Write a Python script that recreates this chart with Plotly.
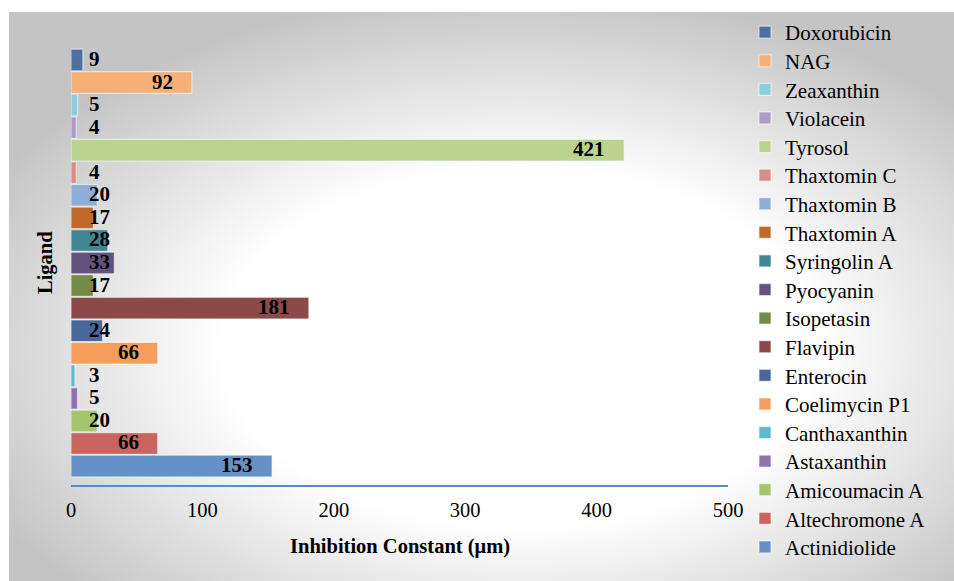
import base64
import plotly.graph_objects as go

# Inhibition constants per ligand, listed from the bottom bar to the top bar
ligands = [
    "Actinidiolide", "Altechromone A", "Amicoumacin A", "Astaxanthin",
    "Canthaxanthin", "Coelimycin P1", "Enterocin", "Flavipin", "Isopetasin",
    "Pyocyanin", "Syringolin A", "Thaxtomin A", "Thaxtomin B", "Thaxtomin C",
    "Tyrosol", "Violacein", "Zeaxanthin", "NAG", "Doxorubicin",
]
ki_values = [153, 66, 20, 5, 3, 66, 24, 181, 17, 33, 28, 17, 20, 4, 421, 4, 5, 92, 9]
x_ticks = [0, 100, 200, 300, 400, 500]

bar_colors = [
    "#6592C6", "#C9645F", "#A5C46C", "#8E73AE", "#5FB8D0", "#F59D5B",
    "#48689A", "#8B4A48", "#738A49", "#64527E", "#428693", "#BF6A2A",
    "#8EAED8", "#D98C8A", "#BCD390", "#AC9CC6", "#8ECCDA", "#F5B07A",
    "#4E70A0",
]

W, H = 954, 581
M_L, M_R, M_T, M_B = 71, 226, 41, 96
PLOT_W = W - M_L - M_R
PLOT_H = H - M_T - M_B
SERIF = "Liberation Serif, Times New Roman, serif"

# legend column: one entry per ligand, top entry first
LEG_LEFT = 745
LEG_TOP_CENTER = 32.5
LEG_STEP = 28.6

# soft grey radial backdrop behind the whole chart (white centre, grey rim)
BG_X0, BG_Y0 = 9, 12
BG_W, BG_H = W - BG_X0, H - BG_Y0
svg = f"""<svg xmlns='http://www.w3.org/2000/svg' width='{BG_W}' height='{BG_H}' viewBox='0 0 {BG_W} {BG_H}' preserveAspectRatio='none'>
<defs><radialGradient id='g' cx='0.54' cy='0.59' r='0.63'>
<stop offset='0' stop-color='#ffffff'/><stop offset='0.5' stop-color='#ffffff'/>
<stop offset='1' stop-color='#c4c4c4'/></radialGradient></defs>
<rect x='0' y='0' width='{BG_W}' height='{BG_H}' fill='url(#g)'/></svg>"""
bg_uri = "data:image/svg+xml;base64," + base64.b64encode(svg.encode()).decode()

fig = go.Figure()
legend_layouts = {}
top_down = list(reversed(list(zip(ligands, ki_values, bar_colors))))
for i, (name, val, col) in enumerate(top_down):
    leg_id = "legend" if i == 0 else f"legend{i + 1}"
    fig.add_trace(go.Bar(
        x=[val], y=[name], orientation="h", name=name, legend=leg_id,
        marker=dict(color=col, line=dict(color="rgba(255,255,255,0.55)", width=1.2)),
        hoverinfo="x+name",
    ))
    center_px = LEG_TOP_CENTER + i * LEG_STEP
    legend_layouts[leg_id] = dict(
        xref="paper", yref="paper",
        x=(LEG_LEFT - M_L) / PLOT_W, y=((H - M_B) - center_px) / PLOT_H,
        xanchor="left", yanchor="middle", bgcolor="rgba(0,0,0,0)",
        font=dict(family=SERIF, size=21, color="#000000"),
        itemwidth=30,
    )

# value labels: inside the bar end, or just right of the axis for short bars
annotations = []
for name, val in zip(ligands, ki_values):
    inside = val >= 50
    annotations.append(dict(
        x=val if inside else 0, y=name, xref="x", yref="y",
        text=f"<b>{val}</b>", showarrow=False,
        xanchor="right" if inside else "left",
        xshift=-17 if inside else 16, yshift=1,
        font=dict(family=SERIF, size=21, color="#000000"),
    ))

annotations.append(dict(
    text="<b>Inhibition Constant (μm)</b>", xref="paper", yref="paper",
    x=0.5, y=-(546 - (H - M_B)) / PLOT_H, xanchor="center", yanchor="middle",
    showarrow=False, font=dict(family=SERIF, size=20.5, color="#000000"),
))
annotations.append(dict(
    text="<b>Ligand</b>", xref="paper", yref="paper",
    x=(45 - M_L) / PLOT_W, y=0.5, xanchor="center", yanchor="middle",
    textangle=-90, showarrow=False,
    font=dict(family=SERIF, size=20.5, color="#000000"),
))

pad = 0.34
fig.update_layout(
    width=W, height=H,
    margin=dict(l=M_L, r=M_R, t=M_T, b=M_B, pad=0),
    paper_bgcolor="#ffffff", plot_bgcolor="rgba(0,0,0,0)",
    barmode="overlay", bargap=0.04,
    showlegend=True,
    xaxis=dict(
        range=[0, 500], tickvals=x_ticks, ticks="", showgrid=False,
        zeroline=False, showline=True, linecolor="#5B8BC7", linewidth=2,
        tickfont=dict(family=SERIF, size=20.5, color="#000000"),
        ticklabelstandoff=5, fixedrange=True,
    ),
    yaxis=dict(
        type="category", categoryorder="array", categoryarray=ligands,
        range=[-0.5 - pad, len(ligands) - 0.5 + pad],
        showticklabels=False, ticks="", showgrid=False, zeroline=False,
        showline=False, fixedrange=True,
    ),
    annotations=annotations,
    images=[dict(
        source=bg_uri, xref="paper", yref="paper",
        x=(BG_X0 - M_L) / PLOT_W, y=1 + (M_T - BG_Y0) / PLOT_H,
        sizex=BG_W / PLOT_W, sizey=BG_H / PLOT_H,
        xanchor="left", yanchor="top", sizing="stretch", layer="below",
    )],
    **legend_layouts,
)

fig.write_html("out.html")
